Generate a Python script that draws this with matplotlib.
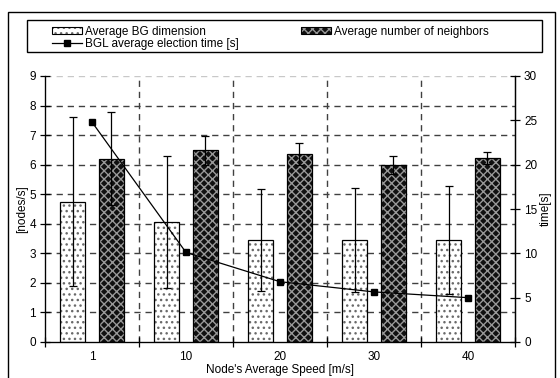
import matplotlib.pyplot as plt
import numpy as np
from matplotlib.lines import Line2D
from matplotlib.patches import Patch, Rectangle

plt.rcParams["font.family"] = ["Liberation Sans", "DejaVu Sans"]
plt.rcParams["font.size"] = 8.5
plt.rcParams["hatch.linewidth"] = 1.0

# values
speeds = ["1", "10", "20", "30", "40"]
bg_dim = [4.75, 4.06, 3.45, 3.45, 3.45]
bg_err = [2.85, 2.22, 1.72, 1.75, 1.82]
neighbors = [6.2, 6.48, 6.35, 6.0, 6.23]
neighbors_err = [1.58, 0.5, 0.37, 0.3, 0.21]
election_time = [24.8, 10.1, 6.8, 5.65, 5.0]

fig = plt.figure(figsize=(5.6, 3.78), dpi=100)
ax = fig.add_axes([45 / 560, 1 - 342 / 378, 470 / 560, 266 / 378])

x = np.arange(len(speeds))
width = 0.265
offset = 0.207

bg_style = dict(facecolor="white", edgecolor="#6a6a6a", hatch="...", lw=0)
nb_style = dict(facecolor="#101010", edgecolor="#989898", hatch="xxxx", lw=0)

# grid below bars
ax.set_axisbelow(True)
for y in range(1, 10):
    ax.axhline(y, color="#c8c8c8" if y == 9 else "#404040", lw=1,
               dashes=(4.5, 3.5), zorder=0)
for xb in x[:-1] + 0.5:
    ax.axvline(xb, color="#404040", lw=1, dashes=(4.5, 3.5), zorder=0)

ax.bar(x - offset, bg_dim, width, zorder=2, **bg_style)
ax.bar(x - offset, bg_dim, width, fill=False, edgecolor="black", lw=0.9, zorder=3)
ax.errorbar(x - offset, bg_dim, yerr=bg_err, fmt="none", ecolor="black",
            elinewidth=0.9, capsize=3, capthick=0.9, zorder=4)

ax.bar(x + offset, neighbors, width, zorder=2, **nb_style)
ax.bar(x + offset, neighbors, width, fill=False, edgecolor="black", lw=0.9, zorder=3)
ax.errorbar(x + offset, neighbors, yerr=neighbors_err, fmt="none", ecolor="black",
            elinewidth=0.9, capsize=3, capthick=0.9, zorder=4)

ax.set_xlim(-0.5, len(speeds) - 0.5)
ax.set_ylim(0, 9)
ax.set_yticks(range(10))
ax.set_xticks(np.arange(len(speeds) + 1) - 0.5)
ax.set_xticklabels([])
ax.set_xticks(x, minor=True)
ax.set_xticklabels(speeds, minor=True)
ax.tick_params(axis="x", which="major", direction="inout", length=7, width=0.9)
ax.tick_params(axis="x", which="minor", length=0, pad=6.5)
ax.tick_params(axis="y", direction="inout", length=7, width=0.9, pad=3)
ax.spines["top"].set_visible(False)
for s in ("left", "bottom", "right"):
    ax.spines[s].set_linewidth(0.9)
ax.set_ylabel("[nodes/s]", labelpad=1)
ax.set_xlabel("Node's Average Speed [m/s]", labelpad=0.5)

ax2 = ax.twinx()
ax2.plot(x, election_time, color="black", lw=0.9, marker="s", markersize=4, zorder=5)
ax2.set_ylim(0, 30)
ax2.set_yticks(range(0, 31, 5))
ax2.tick_params(axis="y", direction="inout", length=7, width=0.9, pad=3)
ax2.spines["top"].set_visible(False)
ax2.spines["right"].set_linewidth(0.9)
ax2.set_ylabel("time[s]", labelpad=2)

# legend box and outer frame
fig.add_artist(Rectangle((27 / 560, 1 - 52 / 378), 515 / 560, 32 / 378,
                         transform=fig.transFigure, fill=False, lw=1, ec="black"))
fig.add_artist(Rectangle((8 / 560, -0.1), 547 / 560, 1.1 - 12 / 378,
                         transform=fig.transFigure, fill=False, lw=1, ec="black"))

frame = dict(fill=False, edgecolor="black", lw=0.8)
handles = [
    (Patch(**bg_style), Patch(**frame)),
    Line2D([], [], color="black", lw=0.9, marker="s", markersize=4),
    (Patch(**nb_style), Patch(**frame)),
]
labels = ["Average BG dimension", "BGL average election time [s]",
          "Average number of neighbors"]
fig.legend(handles, labels, ncol=2, frameon=False, loc="upper left",
           bbox_to_anchor=(52 / 560, 1 - 26 / 378), handlelength=2.5,
           handleheight=0.55, handletextpad=0.3, labelspacing=0.0,
           columnspacing=5.3, borderaxespad=0, borderpad=0)

fig.savefig("out.png", dpi=100)
